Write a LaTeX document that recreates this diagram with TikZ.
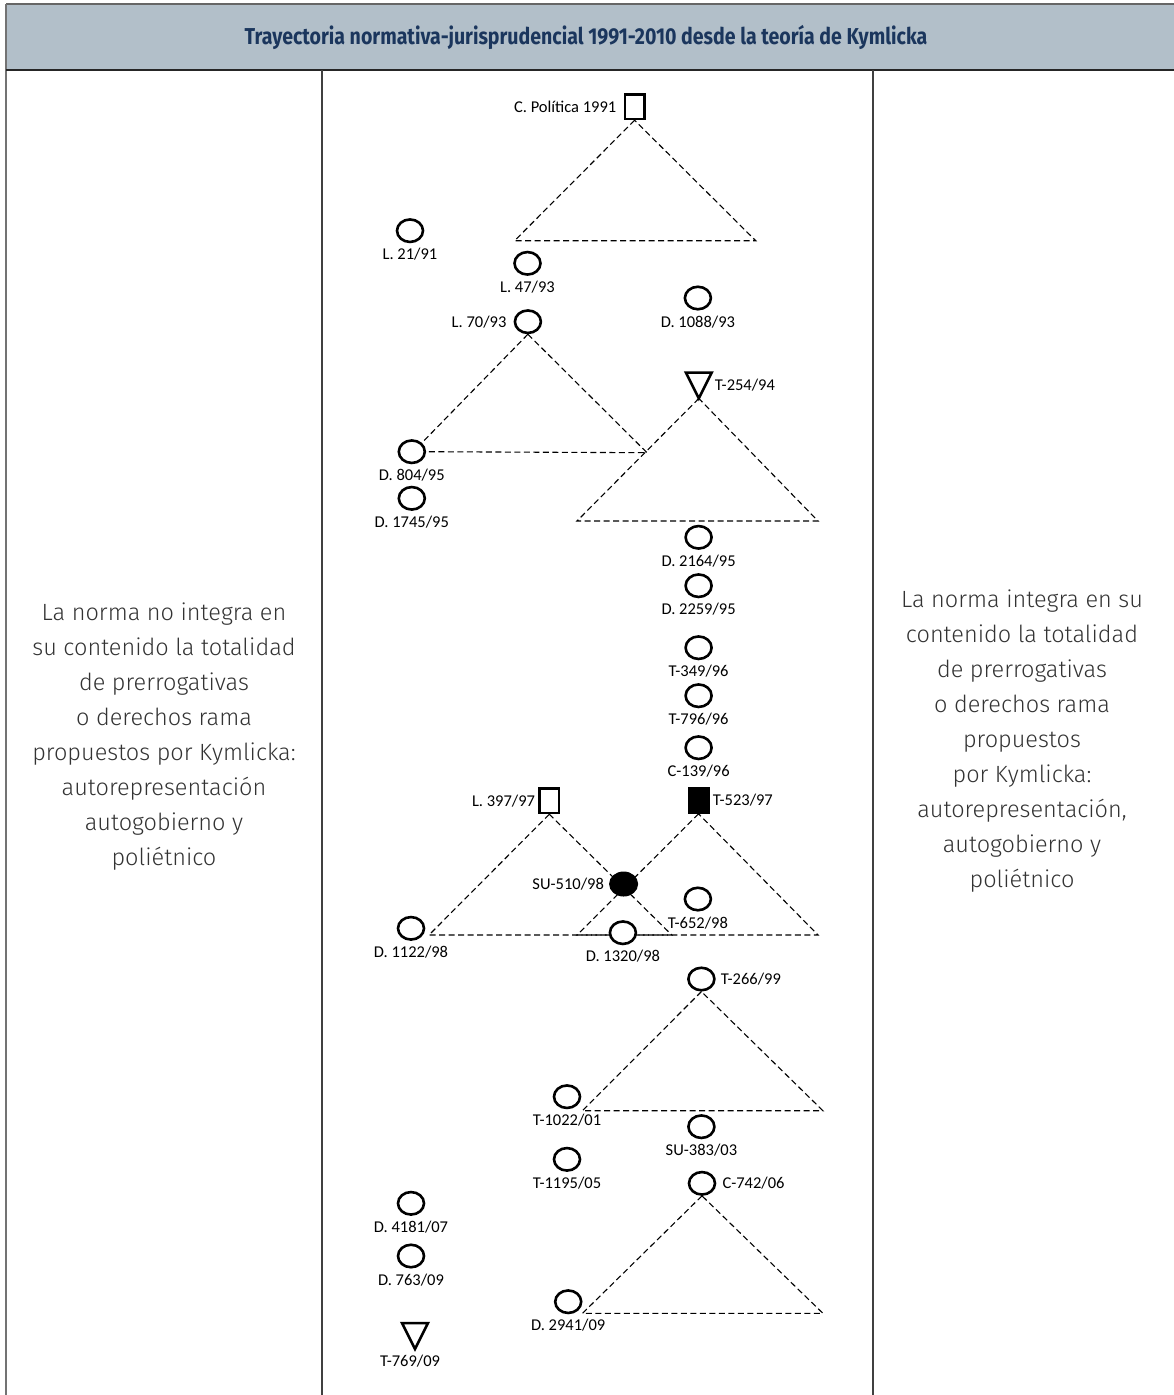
\documentclass[tikz,border=0pt]{standalone}
\usepackage{fontspec}
\usepackage{graphicx}
\setmainfont{Fira Sans Light}
\newfontfamily\titlefont{Fira Sans}
\newfontfamily\labelfont{Carlito}
\usetikzlibrary{positioning,backgrounds,shapes.geometric}

\definecolor{headfill}{HTML}{B2BFC9}
\definecolor{headtext}{HTML}{1B365D}
\definecolor{sidetext}{HTML}{333333}

\tikzset{
  circ/.style={ellipse, draw, fill=white, line width=2.6pt, minimum width=26pt, minimum height=22.5pt, inner sep=0pt},
  dotfill/.style={ellipse, draw, fill=black, line width=1pt, minimum width=28pt, minimum height=24pt, inner sep=0pt},
  sqbox/.style={rectangle, draw, fill=white, line width=2.6pt, minimum width=19.5pt, minimum height=24.5pt, inner sep=0pt},
  sqfill/.style={sqbox, fill=black},
  trimark/.style={rectangle, minimum width=25.5pt, minimum height=25.5pt, inner sep=0pt},
  link/.style={line width=1.1pt, dash pattern=on 6pt off 3.5pt},
  lbl/.style={font=\labelfont\fontsize{16.5}{18}\selectfont, inner sep=1pt, text=black},
  side/.style={align=center, font=\fontsize{23.5}{35}\selectfont, text=sidetext}
}

\begin{document}
\begin{tikzpicture}[x=1pt, y=-1pt, node distance=4pt]
\useasboundingbox (0,0) rectangle (1174,1395);

% Table frame
\fill[headfill] (6,4) rectangle (1174,70);
\draw[line width=1.5pt, black!60] (6,4) -- (1174,4);
\draw[line width=1.3pt, black!55] (6,4) -- (6,1395);
\draw[line width=1.5pt, black!85] (6,70) -- (1174,70);
\draw[line width=1.3pt, black!75] (322,70) -- (322,1395);
\draw[line width=1.3pt, black!75] (873,70) -- (873,1395);

\node[font=\titlefont\bfseries\fontsize{23}{26}\selectfont, text=headtext] (title) at (586,37)
  {\scalebox{0.85}[1]{Trayectoria normativa-jurisprudencial 1991-2010 desde la teoría de Kymlicka}};

% Side texts
\node[side] (lefttxt) at (164,737) {La norma no integra en\\su contenido la totalidad\\de prerrogativas\\o derechos rama\\propuestos por Kymlicka:\\autorepresentación\\autogobierno y\\poliétnico};
\node[side] (righttxt) at (1022,741) {La norma integra en su\\contenido la totalidad\\de prerrogativas\\o derechos rama\\propuestos\\por Kymlicka:\\autorepresentación,\\autogobierno y\\poliétnico};

% Constitution and laws
\node[sqbox] (cp) at (634.6,106.7) {};
\node[lbl, left=6pt of cp] (cp-t) {C. Política 1991};
\node[circ] (l21) at (410,230.7) {};
\node[lbl, below=of l21] (l21-t) {L. 21/91};
\node[circ] (l47) at (527.5,263.3) {};
\node[lbl, below=of l47] (l47-t) {L. 47/93};
\node[circ] (d1088) at (697.9,298) {};
\node[lbl, below=of d1088] (d1088-t) {D. 1088/93};
\node[circ] (l70) at (527.9,321.7) {};
\node[lbl, left=6pt of l70] (l70-t) {L. 70/93};

% 1994 - 1996
\node[trimark] (t254) at (698.8,385.5) {};
\draw[line width=2.6pt, line join=miter] (t254.north west) -- (t254.north east) -- (t254.south) -- cycle;
\node[lbl, right=2pt of t254] (t254-t) {T-254/94};
\node[circ] (d804) at (411.8,451.7) {};
\node[lbl, below=of d804] (d804-t) {D. 804/95};
\node[circ] (d1745) at (411.8,498.3) {};
\node[lbl, below=of d1745] (d1745-t) {D. 1745/95};
\node[circ] (d2164) at (698.6,537.3) {};
\node[lbl, below=of d2164] (d2164-t) {D. 2164/95};
\node[circ] (d2259) at (698.6,585.7) {};
\node[lbl, below=of d2259] (d2259-t) {D. 2259/95};
\node[circ] (t349) at (698.6,647.7) {};
\node[lbl, below=of t349] (t349-t) {T-349/96};
\node[circ] (t796) at (698.6,695.7) {};
\node[lbl, below=of t796] (t796-t) {T-796/96};
\node[circ] (c139) at (698.6,747.7) {};
\node[lbl, below=of c139] (c139-t) {C-139/96};

% 1997 - 1998
\node[sqbox] (l397) at (549.3,800.7) {};
\node[lbl, left=2pt of l397] (l397-t) {L. 397/97};
\node[sqfill] (t523) at (698.6,800.3) {};
\node[lbl, right=2pt of t523] (t523-t) {T-523/97};
\node[dotfill] (su510) at (623.6,884) {};
\node[lbl, left=4pt of su510] (su510-t) {SU-510/98};
\node[circ] (t652) at (697.9,899) {};
\node[lbl, below=of t652] (t652-t) {T-652/98};
\node[circ] (d1122) at (411,928.3) {};
\node[lbl, below=of d1122] (d1122-t) {D. 1122/98};
\node[circ] (d1320) at (622.9,932.7) {};
\node[lbl, below=of d1320] (d1320-t) {D. 1320/98};

% 1999 - 2009
\node[circ] (t266) at (701.4,979) {};
\node[lbl, right=4pt of t266] (t266-t) {T-266/99};
\node[circ] (t1022) at (567,1096.7) {};
\node[lbl, below=of t1022] (t1022-t) {T-1022/01};
\node[circ] (su383) at (701.4,1126.7) {};
\node[lbl, below=of su383] (su383-t) {SU-383/03};
\node[circ] (t1195) at (567,1159.3) {};
\node[lbl, below=of t1195] (t1195-t) {T-1195/05};
\node[circ] (c742) at (702,1183.3) {};
\node[lbl, right=5pt of c742] (c742-t) {C-742/06};
\node[circ] (d4181) at (411,1203.3) {};
\node[lbl, below=of d4181] (d4181-t) {D. 4181/07};
\node[circ] (d763) at (411,1256) {};
\node[lbl, below=of d763] (d763-t) {D. 763/09};
\node[circ] (d2941) at (568.2,1301.7) {};
\node[lbl, below=of d2941] (d2941-t) {D. 2941/09};
\node[trimark] (t769) at (415,1336) {};
\draw[line width=2.6pt, line join=miter] (t769.north west) -- (t769.north east) -- (t769.south) -- cycle;
\node[lbl, below=5pt of t769, xshift=-5pt] (t769-t) {T-769/09};

% Base corners of the dashed triangles
\coordinate (a1) at (514.6,240.7);
\coordinate (a2) at (755.7,240.7);
\coordinate (b2) at (647,452.7);
\coordinate (c1) at (577,521);
\coordinate (c2) at (818,521);
\coordinate (e0) at (429,935);
\coordinate (e1) at (671.8,935);
\coordinate (f1) at (577,935);
\coordinate (f2) at (818,935);
\coordinate (g1) at (582.5,1110.7);
\coordinate (g2) at (822.9,1110.7);
\coordinate (h1) at (582.5,1313.3);
\coordinate (h2) at (822.9,1313.3);

% Dashed triangles (behind the markers)
\begin{scope}[on background layer]
\draw[link] (cp.south) -- (a1) -- (a2) -- (cp.south);
\draw[link] (l70.south) -- (d804.north east);
\draw[link] (l70.south) -- (b2) -- (d804.east);
\draw[link] (t254.south) -- (c1) -- (c2) -- (t254.south);
\draw[link] (l397.south) -- (e0) -- (e1) -- (l397.south);
\draw[link] (t523.south) -- (f1) -- (f2) -- (t523.south);
\draw[link] (t266.south) -- (g1) -- (g2) -- (t266.south);
\draw[link] (c742.south) -- (h1) -- (h2) -- (c742.south);
\end{scope}

\end{tikzpicture}
\end{document}
